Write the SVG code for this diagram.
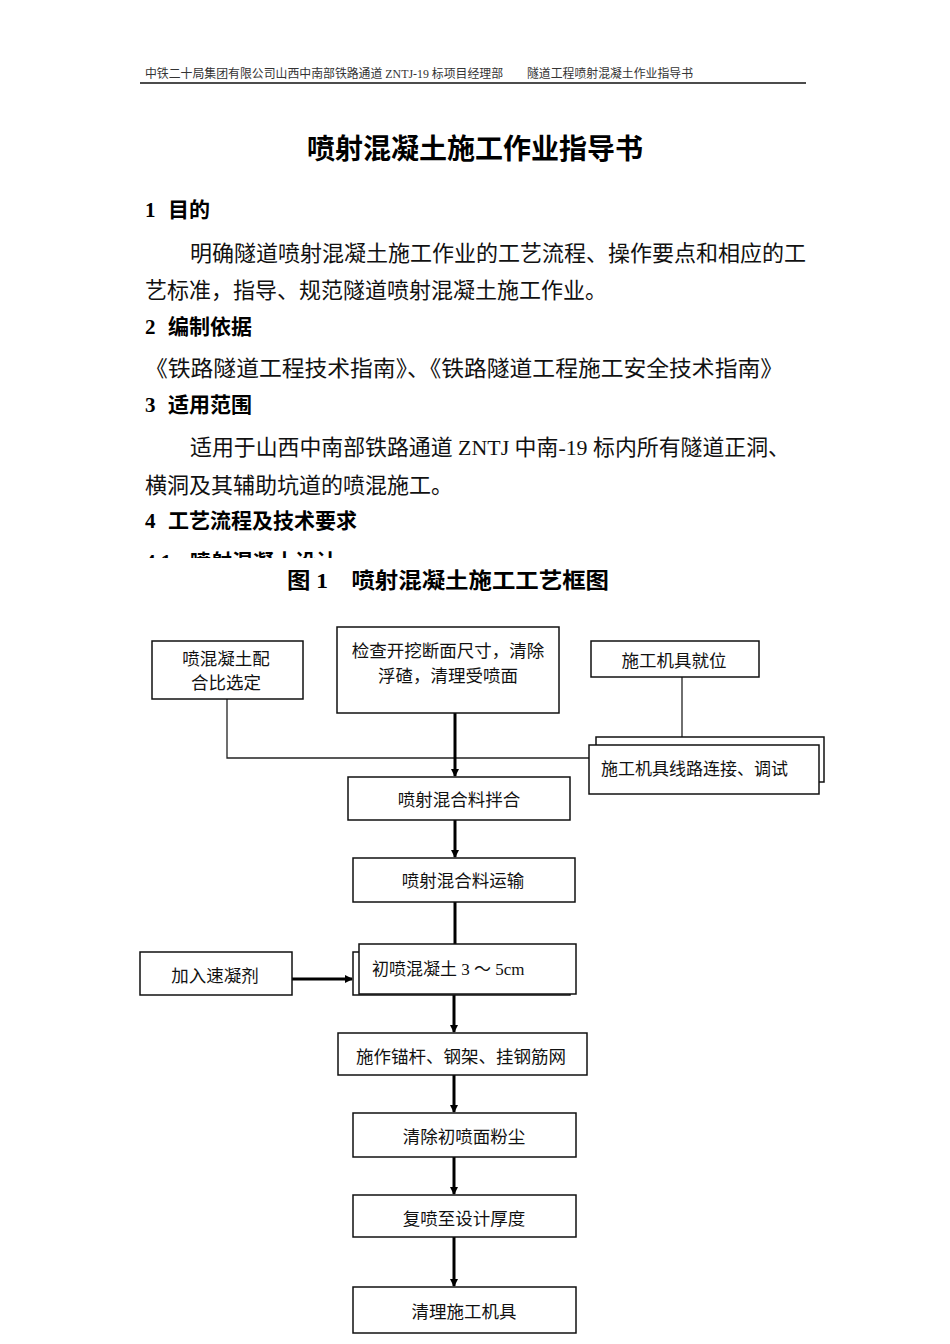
<svg xmlns="http://www.w3.org/2000/svg" width="950" height="1344" viewBox="0 0 950 1344">
<style>
.hdr{font-family:"Liberation Serif","Noto Sans CJK SC",serif;font-size:12px;fill:#333}
.title{font-family:"Liberation Serif","Noto Sans CJK SC",serif;font-size:28px;font-weight:bold;fill:#000}
.h{font-family:"Liberation Serif","Noto Sans CJK SC",serif;font-size:21px;font-weight:bold;fill:#000}
.body{font-family:"Liberation Serif","Noto Sans CJK SC",serif;font-size:22px;fill:#111}
.ft{font-family:"Liberation Serif","Noto Sans CJK SC",serif;font-size:22px;font-weight:bold;fill:#000}
.box{fill:#fff;stroke:#111;stroke-width:1.5}
.t{font-family:"Liberation Sans","Noto Sans CJK SC",sans-serif;font-size:17.5px;fill:#111;text-anchor:middle}
.ts{font-family:"Liberation Serif","Noto Sans CJK SC",serif;font-size:17px;fill:#111}
.thin{fill:none;stroke:#222;stroke-width:1.3}
.thick{fill:none;stroke:#000;stroke-width:3}
</style>
<defs>
<marker id="ah" markerWidth="8" markerHeight="8" refX="7" refY="4" orient="auto" markerUnits="userSpaceOnUse">
<path d="M0,0 L8,4 L0,8 Z" fill="#000"/>
</marker>
<clipPath id="cut"><rect x="0" y="0" width="950" height="558"/></clipPath>
</defs>
<rect width="950" height="1344" fill="#fff"/>

<g id="page-text">
<text class="hdr" x="145" y="78" textLength="358" lengthAdjust="spacingAndGlyphs">中铁二十局集团有限公司山西中南部铁路通道 ZNTJ-19 标项目经理部</text>
<text class="hdr" x="527" y="78" textLength="166" lengthAdjust="spacingAndGlyphs">隧道工程喷射混凝土作业指导书</text>
<line x1="140" y1="83" x2="806" y2="83" stroke="#111" stroke-width="1.5"/>
<text class="title" x="475" y="159" text-anchor="middle">喷射混凝土施工作业指导书</text>
<text class="h" x="145" y="217">1<tspan x="168">目的</tspan></text>
<text class="body" x="190" y="261">明确隧道喷射混凝土施工作业的工艺流程、操作要点和相应的工</text>
<text class="body" x="145" y="298">艺标准，指导、规范隧道喷射混凝土施工作业。</text>
<text class="h" x="145" y="334">2<tspan x="168">编制依据</tspan></text>
<text class="body" x="145" y="376" textLength="638" lengthAdjust="spacingAndGlyphs">《铁路隧道工程技术指南》、《铁路隧道工程施工安全技术指南》</text>
<text class="h" x="145" y="412">3<tspan x="168">适用范围</tspan></text>
<text class="body" x="190" y="455" textLength="600" lengthAdjust="spacingAndGlyphs">适用于山西中南部铁路通道 ZNTJ 中南-19 标内所有隧道正洞、</text>
<text class="body" x="145" y="493">横洞及其辅助坑道的喷混施工。</text>
<text class="h" x="145" y="528">4<tspan x="168">工艺流程及技术要求</tspan></text>
<text class="h" x="145" y="569" clip-path="url(#cut)">4.1 <tspan x="190">喷射混凝土设计</tspan></text>
<text class="ft" x="287" y="588" textLength="322" lengthAdjust="spacingAndGlyphs">图 1　喷射混凝土施工工艺框图</text>
</g>

<g id="connectors">
<polyline class="thin" points="227,699 227,758 589,758"/>
<line class="thin" x1="682" y1="677" x2="682" y2="737"/>
<line class="thick" x1="455" y1="713" x2="455" y2="776" marker-end="url(#ah)"/>
<line class="thick" x1="455" y1="820" x2="455" y2="857" marker-end="url(#ah)"/>
<line class="thick" x1="455" y1="902" x2="455" y2="944"/>
<line class="thick" x1="292" y1="979" x2="352" y2="979" marker-end="url(#ah)"/>
<line class="thick" x1="454" y1="994" x2="454" y2="1032" marker-end="url(#ah)"/>
<line class="thick" x1="454" y1="1075" x2="454" y2="1112" marker-end="url(#ah)"/>
<line class="thick" x1="454" y1="1157" x2="454" y2="1194" marker-end="url(#ah)"/>
<line class="thick" x1="454" y1="1237" x2="454" y2="1286" marker-end="url(#ah)"/>
</g>

<g id="n-mix-ratio">
<rect class="box" x="152" y="641" width="151" height="58"/>
<text class="t" x="226" y="665">喷混凝土配</text>
<text class="t" x="226" y="689">合比选定</text>
</g>
<g id="n-check">
<rect class="box" x="337" y="627" width="222" height="86"/>
<text class="t" x="448" y="657">检查开挖断面尺寸，清除</text>
<text class="t" x="448" y="682">浮碴，清理受喷面</text>
</g>
<g id="n-machine">
<rect class="box" x="591" y="641" width="168" height="36"/>
<text class="t" x="674" y="667">施工机具就位</text>
</g>
<g id="n-wiring">
<rect class="box" x="596" y="737" width="228" height="45"/>
<rect class="box" x="589" y="745" width="230" height="49"/>
<text class="ts" x="601" y="775">施工机具线路连接、调试</text>
</g>
<g id="n-mixing">
<rect class="box" x="348" y="777" width="222" height="43"/>
<text class="t" x="459" y="806">喷射混合料拌合</text>
</g>
<g id="n-transport">
<rect class="box" x="353" y="858" width="222" height="44"/>
<text class="t" x="463" y="887">喷射混合料运输</text>
</g>
<g id="n-accel">
<rect class="box" x="140" y="952" width="152" height="43"/>
<text class="t" x="215" y="982">加入速凝剂</text>
</g>
<g id="n-initial">
<rect class="box" x="353" y="952" width="217" height="43"/>
<rect class="box" x="359" y="944" width="217" height="50"/>
<text class="ts" x="372" y="975">初喷混凝土 3 ～ 5cm</text>
</g>
<g id="n-anchor">
<rect class="box" x="338" y="1033" width="249" height="42"/>
<text class="t" x="461" y="1063">施作锚杆、钢架、挂钢筋网</text>
</g>
<g id="n-dust">
<rect class="box" x="353" y="1113" width="223" height="44"/>
<text class="t" x="464" y="1143">清除初喷面粉尘</text>
</g>
<g id="n-respray">
<rect class="box" x="353" y="1195" width="223" height="42"/>
<text class="t" x="464" y="1225">复喷至设计厚度</text>
</g>
<g id="n-clean">
<rect class="box" x="353" y="1287" width="223" height="46"/>
<text class="t" x="464" y="1318">清理施工机具</text>
</g>
</svg>
